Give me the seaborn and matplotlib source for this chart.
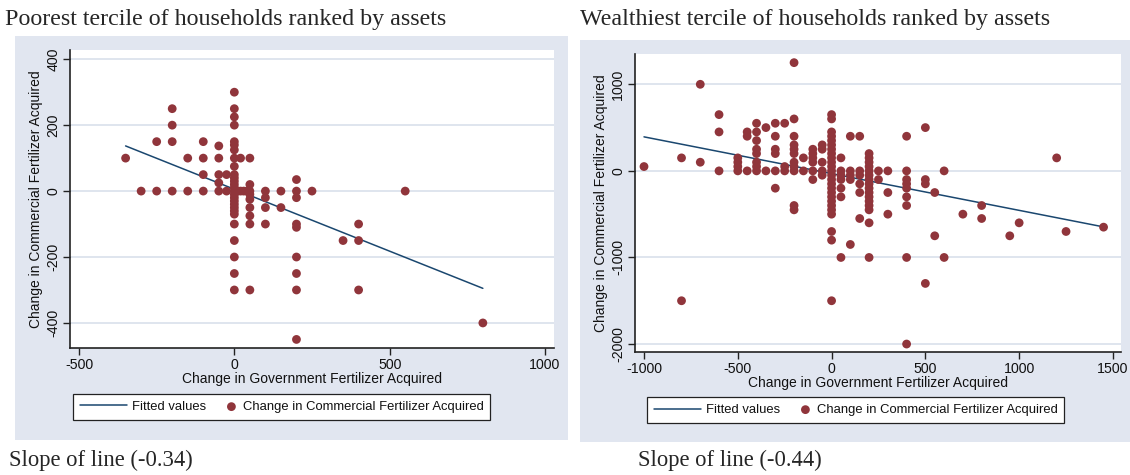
import matplotlib
matplotlib.use("Agg")
import matplotlib.pyplot as plt
import seaborn as sns
import pandas as pd
from matplotlib.patches import Rectangle
from matplotlib.collections import PathCollection
from matplotlib.legend_handler import HandlerPathCollection

# ---------------- data ----------------
poor_gov = [-350, -300, -250, -250, -200, -200, -200, -200, -150, -150,
            -100, -100, -100, -100, -50, -50, -50, -50, -50, -25, -25,
            0, 0, 0, 0, 0, 0, 0, 0, 0, 0, 0, 0, 0, 0, 0, 0, 0, 0, 0, 0, 0, 0, 0, 0, 0, 0, 0,
            10, 20, 20, 30, 40,
            50, 50, 50, 50, 50, 50, 50, 50, 50,
            100, 100, 100, 100,
            150, 150,
            200, 200, 200, 200, 200, 200, 200, 200, 200,
            250, 350, 400, 400, 400, 550, 800]
poor_com = [100, 0, 150, 0, 250, 200, 150, 0, 100, 0,
            150, 100, 50, 0, 137, 100, 50, 25, 0, 50, 0,
            300, 250, 225, 200, 150, 140, 125, 100, 75, 50, 40, 30, 20, 10, 0, -10, -20, -30,
            -40, -50, -60, -70, -100, -150, -200, -250, -300,
            0, 100, 0, 0, 0,
            100, 20, 0, -10, -25, -50, -75, -100, -300,
            0, -20, -50, -100,
            0, -50,
            35, 0, -20, -100, -110, -200, -250, -300, -450,
            0, -150, -100, -150, -300, 0, -400]
poor_fit_x = [-350, 800]
poor_fit_y = [137, -295]

rich_gov = [-1000,
            -800, -800,
            -700, -700,
            -600, -600, -600,
            -500, -500, -500, -500,
            -450, -450, -450,
            -400, -400, -400, -400, -400, -400, -400, -400,
            -350, -350,
            -300, -300, -300, -300, -300, -300,
            -250, -250, -250,
            -200, -200, -200, -200, -200, -200, -200, -200, -200, -200, -200,
            -150, -150,
            -100, -100, -100, -100, -100, -100,
            -50, -50, -50, -50, -50,
            0, 0, 0, 0, 0, 0, 0, 0, 0, 0, 0, 0, 0, 0, 0, 0, 0, 0, 0, 0, 0, 0, 0, 0, 0,
            50, 50, 50, 50, 50, 50, 50,
            100, 100, 100, 100, 100,
            150, 150, 150, 150, 150, 150,
            200, 200, 200, 200, 200, 200, 200, 200, 200, 200, 200, 200, 200, 200, 200, 200,
            250, 250,
            300, 300, 300,
            400, 400, 400, 400, 400, 400, 400, 400, 400,
            500, 500, 500, 500,
            550, 550,
            600, 600,
            700,
            800, 800,
            950, 1000, 1200, 1250, 1450]
rich_com = [50,
            150, -1500,
            1000, 100,
            650, 450, 0,
            150, 100, 50, 0,
            450, 400, 0,
            550, 450, 350, 250, 200, 100, 50, 0,
            500, 0,
            550, 400, 250, 200, 0, -200,
            550, 50, 0,
            1250, 600, 400, 300, 250, 200, 100, 50, 0, -400, -450,
            150, 0,
            250, 200, 150, 100, 0, -100,
            300, 250, 100, 0, -50,
            650, 600, 450, 400, 350, 300, 250, 200, 150, 100, 50, 0, -50, -100, -150, -200,
            -250, -300, -350, -400, -450, -500, -700, -800, -1500,
            150, 0, -50, -100, -200, -300, -1000,
            400, 0, -50, -100, -850,
            400, 0, -50, -150, -250, -550,
            200, 150, 100, 50, 0, -50, -100, -150, -200, -250, -300, -350, -400, -450, -600, -1000,
            0, -100,
            0, -250, -500,
            400, 0, -100, -150, -200, -300, -400, -1000, -2000,
            500, -100, -150, -1300,
            -250, -750,
            0, -1000,
            -500,
            -400, -550,
            -750, -600, 150, -700, -650]
rich_fit_x = [-1000, 1450]
rich_fit_y = [393, -647]

titles = ["Poorest tercile of households ranked by assets",
          "Wealthiest tercile of households ranked by assets"]
slopes = ["Slope of line (-0.34)", "Slope of line (-0.44)"]
xlabel = "Change in Government Fertilizer Acquired"
ylabel = "Change in Commercial Fertilizer Acquired"
fit_label = "Fitted values"
poor_xticks = [-500, 0, 500, 1000]
poor_yticks = [-400, -200, 0, 200, 400]
rich_xticks = [-1000, -500, 0, 500, 1000, 1500]
rich_yticks = [-2000, -1000, 0, 1000]

# ---------------- style ----------------
sns.set_style("ticks")
plt.rcParams['font.family'] = ['Liberation Sans', 'DejaVu Sans']

MAROON = "#90353B"
NAVY = "#1A476F"
PANEL = "#E1E6F0"
GRID = "#D9E0EB"

W, H = 1130, 475
fig = plt.figure(figsize=(W / 100, H / 100), dpi=100)


def fx(px):
    return px / W


def fy(py):
    return 1 - py / H


# panel backgrounds
fig.add_artist(Rectangle((fx(15), fy(440)), fx(568 - 15), (440 - 36) / H,
                         transform=fig.transFigure, facecolor=PANEL, edgecolor='none', zorder=0))
fig.add_artist(Rectangle((fx(580), fy(442)), fx(1130 - 580), (442 - 40) / H,
                         transform=fig.transFigure, facecolor=PANEL, edgecolor='none', zorder=0))

ax1 = fig.add_axes([fx(70), fy(348), fx(554 - 70), (348 - 50) / H])
ax2 = fig.add_axes([fx(635), fy(352), fx(1121 - 635), (352 - 54) / H])

poor = pd.DataFrame({"gov": poor_gov, "com": poor_com})
rich = pd.DataFrame({"gov": rich_gov, "com": rich_com})
poor_fit = pd.DataFrame({"gov": poor_fit_x, "fit": poor_fit_y})
rich_fit = pd.DataFrame({"gov": rich_fit_x, "fit": rich_fit_y})

configs = [
    (ax1, poor, poor_fit, poor_xticks, poor_yticks, (-529, 1029), (-476, 428)),
    (ax2, rich, rich_fit, rich_xticks, rich_yticks, (-1048, 1543), (-2092, 1350)),
]

leg_items = []
for ax, df, fit, xt, yt, xl, yl in configs:
    ax.set_facecolor("white")
    sns.lineplot(data=fit, x="gov", y="fit", ax=ax, color=NAVY, linewidth=1.1,
                 label=fit_label, zorder=3, sort=False)
    sns.scatterplot(data=df, x="gov", y="com", ax=ax, color=MAROON, s=40,
                    edgecolor='none', linewidth=0, label=ylabel, zorder=4)
    ax.set_xlim(*xl)
    ax.set_ylim(*yl)
    ax.set_xticks(xt)
    ax.set_yticks(yt)
    ax.set_xticklabels([str(v) for v in xt], fontsize=10.2, color="#111")
    ax.set_yticklabels([str(v) for v in yt], fontsize=10.2, color="#111",
                       rotation=90, va='center')
    ax.yaxis.grid(True, color=GRID, linewidth=1.2, zorder=0)
    ax.xaxis.grid(False)
    ax.set_axisbelow(True)
    for s in ["top", "right"]:
        ax.spines[s].set_visible(False)
    for s in ["left", "bottom"]:
        ax.spines[s].set_color("#222")
        ax.spines[s].set_linewidth(1.2)
    ax.tick_params(axis='both', direction='out', length=5, width=1, color="#222", pad=2)
    ax.set_xlabel(xlabel, fontsize=10.0, labelpad=0, color="#111")
    ax.set_ylabel(ylabel, fontsize=10.0, labelpad=2, color="#111")
    handles, labels = ax.get_legend_handles_labels()
    if ax.get_legend():
        ax.get_legend().remove()
    leg_items.append((handles, labels))

legend_pos = [((78 + 485) / 2, 407), ((648 + 1063) / 2, 410)]
for (handles, labels), (cx, cy) in zip(leg_items, legend_pos):
    leg = fig.legend(handles, labels, loc='center', bbox_to_anchor=(fx(cx), fy(cy)),
                     ncol=2, frameon=True, fancybox=False, fontsize=9.4,
                     handlelength=3.6, handletextpad=0.45, columnspacing=-1.3,
                     borderpad=0.5, borderaxespad=0,
                     handler_map={PathCollection: HandlerPathCollection(numpoints=1, xpad=2.8)})
    fr = leg.get_frame()
    fr.set_edgecolor("#222")
    fr.set_linewidth(0.9)
    fr.set_facecolor("white")
    fr.set_alpha(1)
    for t in leg.get_texts():
        t.set_color("#111")

fig.text(fx(5), fy(20), titles[0], fontsize=17.3, family='Liberation Serif', va='center', ha='left')
fig.text(fx(580), fy(20), titles[1], fontsize=17.3, family='Liberation Serif', va='center', ha='left')
fig.text(fx(9), fy(460), slopes[0], fontsize=16.3, family='Liberation Serif', va='center', ha='left')
fig.text(fx(638), fy(460), slopes[1], fontsize=16.3, family='Liberation Serif', va='center', ha='left')

fig.savefig("out.png", dpi=100)
